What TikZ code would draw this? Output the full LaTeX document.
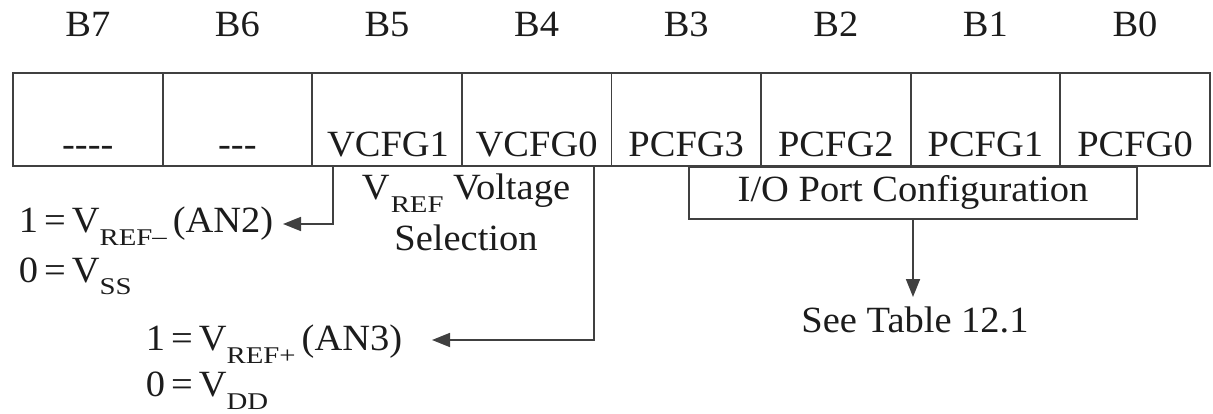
\documentclass[tikz,border=0pt]{standalone}
\usepackage{fontspec}
\setmainfont{Liberation Serif}[FakeStretch=1.04]
\newfontfamily\subf{Liberation Serif}[FakeStretch=1.2]
\usetikzlibrary{arrows.meta}
\definecolor{linec}{HTML}{404040}
\definecolor{textc}{HTML}{1c1c1c}
\newcommand{\sbs}[1]{\raisebox{-13pt}{\fontsize{24}{24}\subf #1}}
\newcommand{\tsp}{\hspace{6pt}}
\tikzset{
  cell/.style={draw=linec, minimum width=149.6pt, minimum height=93pt, inner sep=0pt},
  txt/.style={text=textc, inner sep=0pt, font=\fontsize{37}{42}\selectfont},
  conn/.style={draw=linec, line width=1.8pt},
  arr/.style={conn, -{Triangle[length=18pt,width=14pt]}},
}
\begin{document}
\begin{tikzpicture}[x=1pt,y=-1pt,line width=1.8pt]
\useasboundingbox (0,0) rectangle (1213,414);
% cells and headers
\foreach \i/\b in {0/7,1/6,2/5,3/4,4/3,5/2,6/1,7/0}{
  \node[cell] (c\b) at ({13+149.6*\i+74.8},119.5) {};
  \node[txt, anchor=base] (h\b) at ({13+149.6*\i+74.8},37) {B\b};
}
\node[txt, anchor=base] (t7) at (87.8,157) {-{}-{}-{}-};
\node[txt, anchor=base] (t6) at (237.4,157) {-{}-{}-};
\node[txt, anchor=base] (t5) at (388,157) {VCFG1};
\node[txt, anchor=base] (t4) at (536.6,157) {VCFG0};
\node[txt, anchor=base] (t3) at (686.2,157) {PCFG3};
\node[txt, anchor=base] (t2) at (835.8,157) {PCFG2};
\node[txt, anchor=base] (t1) at (985.4,157) {PCFG1};
\node[txt, anchor=base] (t0) at (1135,157) {PCFG0};
% VREF label
\node[txt, anchor=base] (vref) at (466,200) {V\hspace{1pt}\sbs{REF} Voltage};
\node[txt, anchor=base] (sel) at (466,251) {Selection};
% left texts
\node[txt, anchor=base west] (an2) at (18,233) {1\tsp=\tsp V\sbs{REF\raisebox{1pt}{–}}\tsp(AN2)};
\node[txt, anchor=base west] (vss) at (18,282) {0\tsp=\tsp V\sbs{SS}};
\node[txt, anchor=base west] (an3) at (145,350) {1\tsp=\tsp V\sbs{REF+}\tsp(AN3)};
\node[txt, anchor=base west] (vdd) at (145,396) {0\tsp=\tsp V\sbs{DD}};
% connectors
\coordinate (tip1) at (283,224);
\coordinate (tip2) at (432,340);
\draw[arr] ([xshift=21.8pt]c5.south west) |- (tip1);
\draw[arr] ([xshift=-18.4pt]c4.south east) |- (tip2);
% I/O box
\node[draw=linec, line width=1.8pt, minimum width=448pt, minimum height=52pt, anchor=north, inner sep=0pt] (io) at (913,166) {};
\node[txt, anchor=base] (iot) at (913,202) {I/O Port Configuration};
\node[txt, anchor=base] (see) at (915,332) {See Table 12.1};
\coordinate (tip3) at (913,297);
\draw[arr] (io.south) -- (tip3);
\end{tikzpicture}
\end{document}
